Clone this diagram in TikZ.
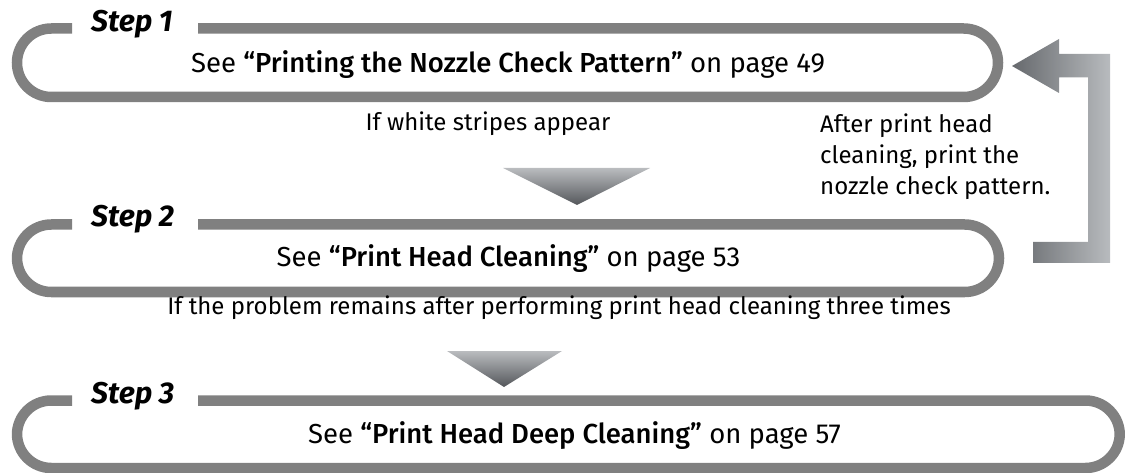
\documentclass[tikz,border=0pt]{standalone}
\usepackage{fontspec}
\setmainfont{Fira Sans}[BoldFont={Fira Sans Medium}, BoldItalicFont={Fira Sans Bold Italic}]
\begin{document}
\begin{tikzpicture}[x=1pt,y=-1pt]
\definecolor{boxgray}{RGB}{128,128,128}
\definecolor{trilight}{RGB}{186,188,191}
\definecolor{tridark}{RGB}{84,87,91}
\definecolor{arrdark}{RGB}{102,105,109}
\definecolor{arrlight}{RGB}{184,187,190}
\tikzset{
  stepbox/.style={draw=boxgray, line width=10.5pt, rounded corners=34.25pt},
  body/.style={font=\fontsize{24}{28}\selectfont, anchor=base, inner sep=0pt, text=black},
  boxtext/.style={font=\fontsize{27.5}{32}\selectfont, anchor=base, inner sep=0pt, text=black},
  steplabel/.style={font=\fontsize{30}{34}\selectfont\bfseries\itshape, anchor=base west, inner sep=0pt, text=black},
  note/.style={font=\fontsize{24}{31}\selectfont, anchor=north west, align=left, inner sep=0pt, text=black},
}
\useasboundingbox (0,0) rectangle (1125,473);
% boxes
\draw[stepbox] (72,28.5) -- (17,28.5) -- (17,97) -- (998,97) -- (998,28.5) -- (198,28.5);
\draw[stepbox] (72,224.5) -- (17,224.5) -- (17,292) -- (999,292) -- (999,224.5) -- (198,224.5);
\draw[stepbox] (72,400.5) -- (17,400.5) -- (17,468) -- (1119.75,468) -- (1119.75,400.5) -- (198,400.5);
% step labels
\node[steplabel] (s1) at (91,32) {Step 1};
\node[steplabel] (s2) at (91,227) {Step 2};
\node[steplabel] (s3) at (91,403) {Step 3};
% box texts
\node[boxtext] (t1) at (508,73) {See \textbf{“Printing the Nozzle Check Pattern”} on page 49};
\node[boxtext] (t2) at (508.5,267) {See \textbf{“Print Head Cleaning”} on page 53};
\node[boxtext] (t3) at (574.5,443) {See \textbf{“Print Head Deep Cleaning”} on page 57};
% conditions
\node[body] (c1) at (488,131) {If white stripes appear};
\node[body] (c2) at (559,314) {If the problem remains after performing print head cleaning three times};
\node[note] (n1) at (820,114) {After print head\\cleaning, print the\\nozzle check pattern.};
% down triangles
\shade[top color=trilight, bottom color=tridark] (503,168) -- (650,168) -- (577,205) -- cycle;
\shade[top color=trilight, bottom color=tridark] (447,351) -- (562,351) -- (504,387) -- cycle;
% feedback arrow
\shade[left color=arrdark, right color=arrlight] (1012,66) -- (1059,39) -- (1059,54) -- (1110,54) -- (1110,263) -- (1033,263) -- (1033,242) -- (1088,242) -- (1088,77.5) -- (1059,77.5) -- (1059,93) -- cycle;
\end{tikzpicture}
\end{document}
